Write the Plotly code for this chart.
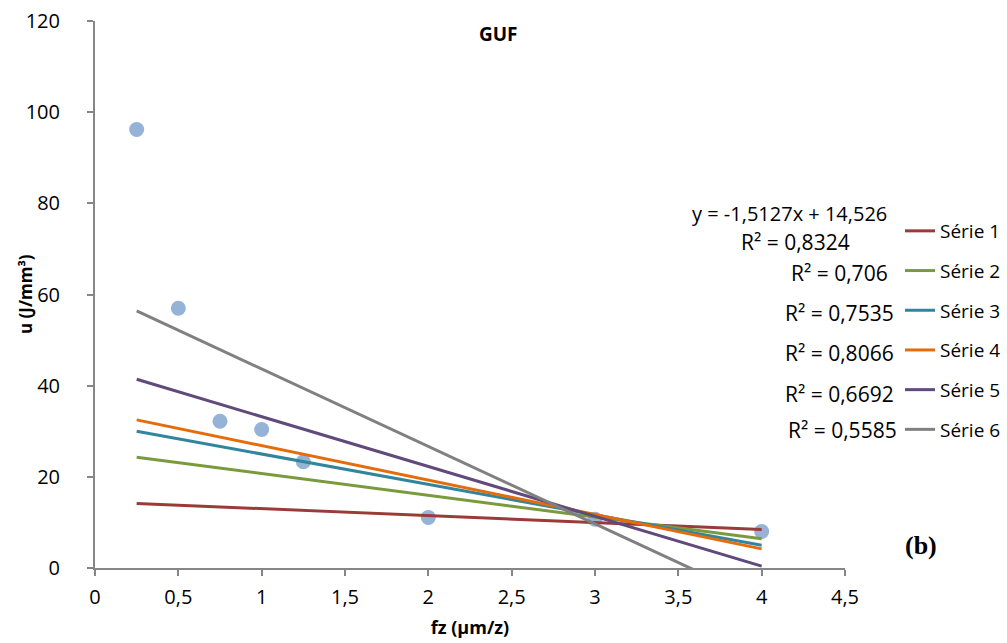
import plotly.graph_objects as go

# data
fz = [0.25, 0.5, 0.75, 1.0, 1.25, 2.0, 3.0, 4.0]
u = [96.2, 57.0, 32.2, 30.4, 23.3, 11.1, 10.7, 8.0]

series_names = ["Série 1", "Série 2", "Série 3", "Série 4", "Série 5", "Série 6"]
line_x = [0.25, 4.0]
line_start = [14.15, 24.3, 30.0, 32.5, 41.4, 56.4]
line_end = [8.47, 6.4, 5.0, 4.2, 0.4, -7.3]
line_colors = ["#993B39", "#7A9A3D", "#31859C", "#E46C0A", "#604A7B", "#808080"]
r2_labels = ["R² = 0,8324", "R² = 0,706", "R² = 0,7535", "R² = 0,8066", "R² = 0,6692", "R² = 0,5585"]
equation_label = "y = -1,5127x + 14,526"

x_ticks = [0, 0.5, 1, 1.5, 2, 2.5, 3, 3.5, 4, 4.5]
x_tick_text = ["0", "0,5", "1", "1,5", "2", "2,5", "3", "3,5", "4", "4,5"]
y_ticks = [0, 20, 40, 60, 80, 100, 120]

FONT = "Open Sans"

fig = go.Figure()
fig.add_trace(go.Scatter(x=fz, y=u, mode="markers", showlegend=False,
                         marker=dict(color="#95B3D7", size=15, line=dict(width=0))))
for i, name in enumerate(series_names):
    fig.add_trace(go.Scatter(x=line_x, y=[line_start[i], line_end[i]], mode="lines",
                             name=name, legendgroup=name,
                             line=dict(color=line_colors[i], width=3)))

axis_common = dict(showline=True, linecolor="#868686", linewidth=2, ticks="outside",
                   ticklen=6, tickwidth=2, tickcolor="#868686", showgrid=False, zeroline=False,
                   automargin=False,
                   tickfont=dict(family=FONT, size=20, color="#000"))

fig.update_xaxes(range=[0, 4.5], tickvals=x_ticks, ticktext=x_tick_text,
                 ticklabelstandoff=4,
                 title=dict(text="<b>fz (µm/z)</b>", font=dict(family=FONT, size=18, color="#000"), standoff=12),
                 **axis_common)
fig.update_yaxes(range=[0, 120], tickvals=y_ticks,
                 ticklabelstandoff=23,
                 **axis_common)

# R² labels (left edges / centres)
r2_y_px = [242, 273, 313, 353, 394, 430]
r2_left_px = [739, 789, 783, 783, 783, 786]
ann = []
for i in range(6):
    ann.append(dict(xref="paper", yref="paper", x=(r2_left_px[i] - 95) / 750, y=(568 - r2_y_px[i]) / 547,
                    text=r2_labels[i], showarrow=False, xanchor="left", yanchor="middle",
                    font=dict(family=FONT, size=21, color="#000")))
ann.append(dict(xref="paper", yref="paper", x=(789 - 95) / 750, y=(568 - 213) / 547,
                text=equation_label, showarrow=False, xanchor="center", yanchor="middle",
                font=dict(family=FONT, size=20, color="#000")))
ann.append(dict(xref="paper", yref="paper", x=(498 - 95) / 750, y=(568 - 34) / 547,
                text="<b>GUF</b>", showarrow=False, xanchor="center", yanchor="middle",
                font=dict(family=FONT, size=19, color="#000")))
ann.append(dict(xref="paper", yref="paper", x=(921 - 95) / 750, y=(568 - 545) / 547,
                text="<b>(b)</b>", showarrow=False, xanchor="center", yanchor="middle",
                font=dict(family="Liberation Serif", size=26, color="#000")))
# y-axis title
ann.append(dict(xref="paper", yref="paper", x=(25 - 95) / 750, y=(568 - 294) / 547,
                text="<b>u (J/mm³)</b>", showarrow=False, xanchor="center", yanchor="middle",
                textangle=-90, font=dict(family=FONT, size=17, color="#000")))

fig.update_layout(
    width=1007, height=643,
    margin=dict(l=95, r=162, t=21, b=75, autoexpand=False),
    paper_bgcolor="white", plot_bgcolor="white",
    showlegend=True,
    legend=dict(x=(900 - 95) / 750, y=(568 - 212) / 547, xanchor="left", yanchor="top",
                font=dict(family=FONT, size=19, color="#000"), tracegroupgap=12,
                bgcolor="rgba(0,0,0,0)", itemwidth=30),
    annotations=ann,
)

fig.write_html("out.html")
